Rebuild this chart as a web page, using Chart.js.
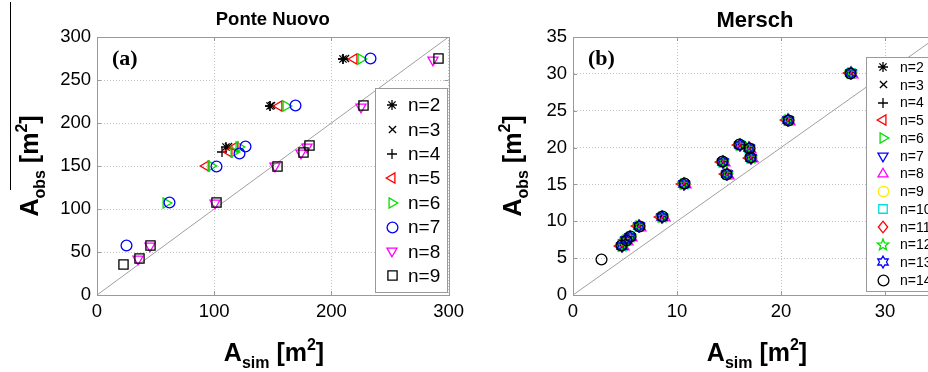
<!DOCTYPE html>
<html>
<head>
<meta charset="utf-8">
<title>Ponte Nuovo / Mersch</title>
<script src="https://cdn.jsdelivr.net/npm/chart.js"></script>
<style>
  html, body { margin: 0; padding: 0; background: #fff; overflow: hidden; }
  #wrap { position: relative; width: 928px; height: 372px; overflow: hidden; }
  #chartA { position: absolute; left: 0; top: 0; }
  #chartB { position: absolute; left: 470px; top: 0; }
</style>
</head>
<body>
<div id="wrap">
  <canvas id="chartA" width="470" height="372"></canvas>
  <canvas id="chartB" width="490" height="372"></canvas>
</div>

<script>
// ---- (a) Ponte Nuovo : simulated vs observed area ----
const seriesA = ['n=2', 'n=3', 'n=4', 'n=5', 'n=6', 'n=7', 'n=8', 'n=9'];
const xTicksA = [0, 100, 200, 300];
const yTicksA = [0, 50, 100, 150, 200, 250, 300];
const simA_n2 = [210, 148, 110];
const obsA_n2 = [275, 220, 172];
const simA_n3 = [212, 149, 112];
const obsA_n3 = [275, 220, 173];
const simA_n4 = [210, 148, 107];
const obsA_n4 = [275, 220, 166];
const simA_n5 = [219, 155, 118, 113, 93];
const obsA_n5 = [275, 220, 172, 166, 150];
const simA_n6 = [225, 161, 121, 117, 97, 59];
const obsA_n6 = [275, 220, 172, 166, 150, 107];
const simA_n7 = [233, 169, 127, 122, 102, 62, 25];
const obsA_n7 = [275, 220, 173, 165, 150, 107, 57];
const simA_n8 = [287, 225, 179, 174, 152, 101, 45, 35];
const obsA_n8 = [273, 219, 172, 165, 150, 107, 57, 42];
const simA_n9 = [291, 227, 181, 176, 154, 102, 46, 36, 23];
const obsA_n9 = [275, 220, 174, 166, 150, 107, 58, 43, 35];

// ---- (b) Mersch ----
const seriesB = ['n=2', 'n=3', 'n=4', 'n=5', 'n=6', 'n=7', 'n=8', 'n=9', 'n=10', 'n=11', 'n=12', 'n=13', 'n=14'];
const xTicksB = [0, 10, 20, 30];
const yTicksB = [0, 5, 10, 15, 20, 25, 30, 35];
const simB = [4.7, 5.1, 5.5, 6.35, 8.6, 10.7, 14.4, 14.8, 16.05, 16.95, 17.1, 20.7, 26.7];
const obsB = [6.65, 7.45, 7.9, 9.35, 10.6, 15.1, 18.1, 16.35, 20.35, 19.9, 18.6, 23.7, 30.1];
const simB_n5 = [4.5, 4.9, 5.3, 6.15, 8.4, 10.5, 14.2, 14.6, 15.85, 16.75, 16.9, 20.5, 26.5];
const simB_n8 = [4.9, 5.3, 5.7, 6.55, 8.8, 10.9, 14.6, 15.0, 16.25, 17.15, 17.3, 20.9, 26.9];
const obsB_n8 = [6.45, 7.25, 7.7, 9.15, 10.4, 14.9, 17.9, 16.15, 20.15, 19.7, 18.4, 23.5, 29.9];
const simB_n14 = [2.76, 4.7, 5.1, 5.5, 6.35, 8.6, 10.7, 14.4, 14.8, 16.05, 16.95, 17.1, 20.7, 26.7];
const obsB_n14 = [4.75, 6.65, 7.45, 7.9, 9.35, 10.6, 15.1, 18.1, 16.35, 20.35, 19.9, 18.6, 23.7, 30.1];

const FONT = '"Liberation Sans", Arial, sans-serif';

// draws a MATLAB-like hollow marker into a small canvas, used as pointStyle
function marker(shape, color, r) {
    const s = Math.ceil(2 * r + 4);
    const c = document.createElement('canvas');
    c.width = s; c.height = s;
    const g = c.getContext('2d');
    g.translate(s / 2, s / 2);
    g.strokeStyle = color;
    g.lineWidth = 1.3;
    g.beginPath();
    const poly = (pts) => { pts.forEach((p, i) => i ? g.lineTo(p[0], p[1]) : g.moveTo(p[0], p[1])); g.closePath(); };
    const tri = (deg) => {
        const pts = [];
        for (let k = 0; k < 3; k++) {
            const a = (deg + k * 120) * Math.PI / 180;
            pts.push([r * Math.cos(a), r * Math.sin(a)]);
        }
        poly(pts);
    };
    const starPts = (n, inner) => {
        const pts = [];
        for (let k = 0; k < 2 * n; k++) {
            const a = -Math.PI / 2 + k * Math.PI / n;
            const rr = k % 2 ? r * inner : r;
            pts.push([rr * Math.cos(a), rr * Math.sin(a)]);
        }
        poly(pts);
    };
    const d = r * 0.72;
    const q = r * 0.65;
    switch (shape) {
        case 'circle': g.arc(0, 0, r, 0, Math.PI * 2); break;
        case 'square': g.rect(-r * 0.85, -r * 0.85, r * 1.7, r * 1.7); break;
        case 'diamond': poly([[0, -r], [r * 0.8, 0], [0, r], [-r * 0.8, 0]]); break;
        case 'triU': tri(-90); break;
        case 'triD': tri(90); break;
        case 'triL': tri(180); break;
        case 'triR': tri(0); break;
        case 'plus': g.moveTo(-r, 0); g.lineTo(r, 0); g.moveTo(0, -r); g.lineTo(0, r); break;
        case 'x': g.moveTo(-q, -q); g.lineTo(q, q); g.moveTo(q, -q); g.lineTo(-q, q); break;
        case 'asterisk':
            g.moveTo(-r, 0); g.lineTo(r, 0); g.moveTo(0, -r); g.lineTo(0, r);
            g.moveTo(-d, -d); g.lineTo(d, d); g.moveTo(d, -d); g.lineTo(-d, d);
            break;
        case 'pentagram': starPts(5, 0.42); break;
        case 'hexagram': starPts(6, 0.58); break;
    }
    g.stroke();
    return c;
}

function richText(ctx, parts, x, y, angle) {
    ctx.save();
    ctx.translate(x, y);
    ctx.rotate(angle);
    let w = 0;
    parts.forEach(p => {
        ctx.font = 'bold ' + p.size + 'px ' + FONT;
        p.w = ctx.measureText(p.t).width;
        w += p.w;
    });
    let cx = -w / 2;
    ctx.fillStyle = '#000';
    ctx.textAlign = 'left';
    ctx.textBaseline = 'alphabetic';
    parts.forEach(p => {
        ctx.font = 'bold ' + p.size + 'px ' + FONT;
        ctx.fillText(p.t, cx, p.dy || 0);
        cx += p.w;
    });
    ctx.restore();
}

// box, inner ticks, titles, panel letter and legend, drawn after the data
function decoPlugin(cfg) {
    return {
        id: 'deco',
        beforeDatasetsDraw(chart) {
            chart.ctx.imageSmoothingEnabled = false;
        },
        afterDatasetsDraw(chart) {
            chart.ctx.imageSmoothingEnabled = true;
        },
        afterDraw(chart) {
            const ctx = chart.ctx;
            const a = chart.chartArea;
            const sx = chart.scales.x, sy = chart.scales.y;
            ctx.save();
            ctx.strokeStyle = '#9a9a9a';
            ctx.lineWidth = 1;
            ctx.beginPath();
            sx.ticks.forEach(t => {
                const px = Math.round(sx.getPixelForValue(t.value)) + 0.5;
                ctx.moveTo(px, a.bottom); ctx.lineTo(px, a.bottom - 4);
                ctx.moveTo(px, a.top); ctx.lineTo(px, a.top + 4);
            });
            sy.ticks.forEach(t => {
                const py = Math.round(sy.getPixelForValue(t.value)) + 0.5;
                ctx.moveTo(a.left, py); ctx.lineTo(a.left + 4, py);
                ctx.moveTo(a.right, py); ctx.lineTo(a.right - 4, py);
            });
            ctx.stroke();
            ctx.strokeRect(Math.round(a.left) + 0.5, Math.round(a.top) + 0.5,
                Math.round(a.right - a.left), Math.round(a.bottom - a.top));

            // title
            ctx.fillStyle = '#000';
            ctx.font = 'bold ' + cfg.titleSize + 'px ' + FONT;
            ctx.textAlign = 'center';
            ctx.textBaseline = 'alphabetic';
            ctx.fillText(cfg.title, (a.left + a.right) / 2, cfg.titleY);

            // panel letter
            ctx.font = 'bold 22px "Liberation Serif", "Times New Roman", serif';
            ctx.textAlign = 'left';
            ctx.fillText(cfg.letter, a.left + 15, 65);

            // axis titles
            richText(ctx, [
                { t: 'A', size: 25 }, { t: 'sim', size: 16, dy: 7 },
                { t: ' [m', size: 25 }, { t: '2', size: 16, dy: -11 }, { t: ']', size: 25 }
            ], cfg.xTitleX, 361, 0);
            richText(ctx, [
                { t: 'A', size: 25 }, { t: 'obs', size: 16, dy: 7 },
                { t: ' [m', size: 25 }, { t: '2', size: 16, dy: -11 }, { t: ']', size: 25 }
            ], cfg.yTitleX, 166, -Math.PI / 2);

            // legend
            const L = cfg.legend;
            ctx.fillStyle = '#fff';
            ctx.fillRect(L.x, L.y, L.w, L.h);
            ctx.strokeStyle = '#9a9a9a';
            ctx.strokeRect(L.x + 0.5, L.y + 0.5, L.w, L.h);
            ctx.font = L.font + 'px ' + FONT;
            ctx.textBaseline = 'middle';
            ctx.textAlign = 'left';
            ctx.fillStyle = '#000';
            cfg.labels.forEach((lab, i) => {
                const yy = L.first + i * L.step;
                const img = cfg.styles[i];
                ctx.drawImage(img, Math.round(L.mx - img.width / 2), Math.round(yy - img.height / 2));
                ctx.fillText(lab, L.tx, yy + 1);
            });

            if (cfg.extraLine) {
                ctx.strokeStyle = '#000';
                ctx.beginPath();
                ctx.moveTo(10.5, 2); ctx.lineTo(10.5, 190);
                ctx.stroke();
            }
            ctx.restore();
        }
    };
}

function toPoints(xs, ys) {
    return xs.map((v, i) => ({ x: v, y: ys[i] }));
}

function axis(min, max, ticks, size) {
    return {
        type: 'linear',
        min: min,
        max: max,
        afterBuildTicks: (s) => { s.ticks = ticks.map(v => ({ value: v })); },
        grid: { color: '#c4c4c4', lineWidth: 1, drawTicks: false },
        border: { display: true, color: '#9a9a9a', dash: [1, 2] },
        ticks: { color: '#000', font: { family: FONT, size: 18.5 }, padding: 6, maxRotation: 0, autoSkip: false },
        afterFit: (s) => { if (s.isHorizontal()) s.height = size; else s.width = size; }
    };
}

function buildChart(id, xs, ys, labels, styles, range, xTicks, yTicks, yWidth, padRight, deco) {
    const datasets = labels.map((lab, i) => ({
        label: lab,
        data: toPoints(xs[i], ys[i]),
        pointStyle: styles[i],
        pointRadius: 5,
        pointHoverRadius: 5,
        showLine: false,
        order: 100 - i
    }));
    datasets.push({
        label: '1:1',
        data: toPoints(range, range),
        showLine: true,
        borderColor: '#a0a0a0',
        borderWidth: 1,
        pointRadius: 0,
        order: 200
    });
    return new Chart(document.getElementById(id), {
        type: 'scatter',
        data: { datasets: datasets },
        options: {
            responsive: false,
            animation: false,
            layout: { padding: { left: 0, right: padRight, top: 37, bottom: 0 } },
            scales: {
                x: axis(range[0], range[1], xTicks, 77),
                y: axis(range[0], range[1], yTicks, yWidth)
            },
            plugins: { legend: { display: false }, tooltip: { enabled: false } }
        },
        plugins: [decoPlugin(deco)]
    });
}

// marker styles (MATLAB default look)
const stylesA = [
    marker('asterisk', '#000', 5), marker('x', '#000', 5.5), marker('plus', '#000', 5),
    marker('triL', '#ff0000', 5.8), marker('triR', '#00e000', 5.8), marker('circle', '#0000ff', 5.4),
    marker('triD', '#ff00ff', 5.8), marker('square', '#000', 5.4)
];
const stylesB = [
    marker('asterisk', '#000', 5), marker('x', '#000', 5.5), marker('plus', '#000', 5),
    marker('triL', '#ff0000', 5.8), marker('triR', '#00e000', 5.8), marker('triD', '#0000ff', 5.8),
    marker('triU', '#ff00ff', 5.8), marker('circle', '#ffee00', 5.2), marker('square', '#00e0e0', 5),
    marker('diamond', '#ff0000', 5.8), marker('pentagram', '#00e000', 6), marker('hexagram', '#0000ff', 6),
    marker('circle', '#000', 5.4)
];

buildChart('chartA',
    [simA_n2, simA_n3, simA_n4, simA_n5, simA_n6, simA_n7, simA_n8, simA_n9],
    [obsA_n2, obsA_n3, obsA_n4, obsA_n5, obsA_n6, obsA_n7, obsA_n8, obsA_n9],
    seriesA, stylesA, [0, 300], xTicksA, yTicksA, 97, 19, {
        title: 'Ponte Nuovo', titleSize: 18.5, titleY: 25, letter: '(a)', xTitleX: 274, yTitleX: 38, extraLine: true,
        labels: seriesA, styles: stylesA,
        legend: { x: 375, y: 88, w: 72, h: 204, mx: 392, tx: 408, first: 105, step: 24.4, font: 19 }
    });

buildChart('chartB',
    [simB, simB, simB, simB_n5, simB, simB, simB_n8, simB, simB, simB, simB, simB, simB_n14],
    [obsB, obsB, obsB, obsB, obsB, obsB, obsB_n8, obsB, obsB, obsB, obsB, obsB, obsB_n14],
    seriesB, stylesB, [0, 35], xTicksB, yTicksB, 103, 23, {
        title: 'Mersch', titleSize: 22, titleY: 27, letter: '(b)', xTitleX: 287, yTitleX: 51, extraLine: false,
        labels: seriesB, styles: stylesB,
        legend: { x: 396, y: 57, w: 120, h: 234, mx: 413, tx: 430, first: 67, step: 17.75, font: 14 }
    });
</script>
</body>
</html>
